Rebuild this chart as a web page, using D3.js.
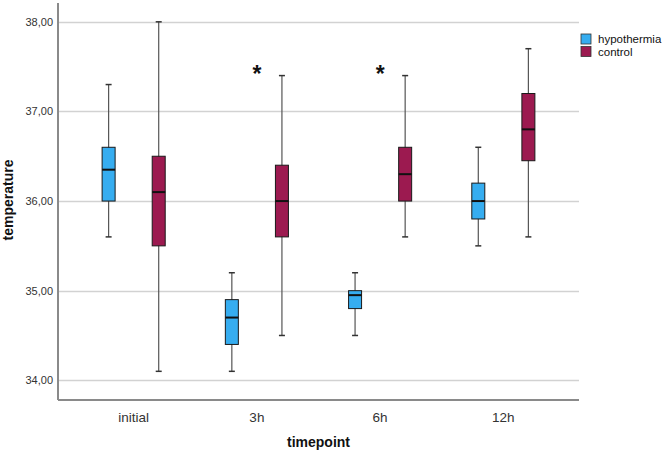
<!DOCTYPE html>
<html>
<head>
<meta charset="utf-8">
<script src="https://cdn.jsdelivr.net/npm/d3@7"></script>
<style>
  body { margin: 0; background: #fff; }
  svg { display: block; font-family: "Liberation Sans", Arial, sans-serif; }
</style>
</head>
<body>
<div id="chart"></div>
<script>
// timepoints and groups
const timepoints = ["initial", "3h", "6h", "12h"];
const groups = ["hypothermia", "control"];
const yTicks = [34, 35, 36, 37, 38];

// box stats (whisker low, Q1, median, Q3, whisker high)
const hypoMin = [35.6, 34.1, 34.5, 35.5];
const hypoQ1 = [36.0, 34.4, 34.8, 35.8];
const hypoMedian = [36.35, 34.7, 34.95, 36.0];
const hypoQ3 = [36.6, 34.9, 35.0, 36.2];
const hypoMax = [37.3, 35.2, 35.2, 36.6];

const ctrlMin = [34.1, 34.5, 35.6, 35.6];
const ctrlQ1 = [35.5, 35.6, 36.0, 36.45];
const ctrlMedian = [36.1, 36.0, 36.3, 36.8];
const ctrlQ3 = [36.5, 36.4, 36.6, 37.2];
const ctrlMax = [38.0, 37.4, 37.4, 37.7];

// timepoints marked with a star
const significant = ["3h", "6h"];
const starValue = 37.33;

const W = 667, H = 455;
const plot = { left: 58, right: 579, top: 3, bottom: 400 };

const svg = d3.select("#chart").append("svg")
    .attr("width", W)
    .attr("height", H);

const colors = d3.scaleOrdinal()
    .domain(groups)
    .range(["#36adf0", "#9c1a50"]);

const x = d3.scaleBand()
    .domain(timepoints)
    .range([plot.left, plot.right])
    .paddingInner(0)
    .paddingOuter(0.114);

const xSub = d3.scaleBand()
    .domain(groups)
    .range([0, x.bandwidth()])
    .paddingOuter(0.23);

const y = d3.scaleLinear()
    .domain([33.78, 38.21])
    .range([plot.bottom, plot.top]);

// gridlines
svg.append("g")
    .selectAll("line")
    .data(yTicks)
    .join("line")
    .attr("x1", plot.left)
    .attr("x2", plot.right)
    .attr("y1", d => Math.round(y(d)) + 0.5)
    .attr("y2", d => Math.round(y(d)) + 0.5)
    .attr("stroke", "#d2d2d2")
    .attr("stroke-width", 1.5);

// y axis
const yAxis = svg.append("g")
    .attr("transform", `translate(${plot.left},0)`)
    .call(d3.axisLeft(y).tickValues(yTicks).tickSize(0).tickPadding(5)
        .tickFormat(d => d3.format(".2f")(d).replace(".", ",")));
yAxis.select(".domain").remove();
yAxis.selectAll("text")
    .attr("font-size", 11)
    .attr("fill", "#333")
    .attr("font-family", "Liberation Sans, Arial, sans-serif");

// x axis
const xAxis = svg.append("g")
    .attr("transform", `translate(0,${plot.bottom})`)
    .call(d3.axisBottom(x).tickSize(0).tickPadding(12));
xAxis.select(".domain").remove();
xAxis.selectAll("text")
    .attr("font-size", 13.5)
    .attr("fill", "#333")
    .attr("font-family", "Liberation Sans, Arial, sans-serif");

// axis lines
svg.append("line")
    .attr("x1", plot.left).attr("x2", plot.left)
    .attr("y1", plot.top).attr("y2", plot.bottom)
    .attr("stroke", "#8a8a8a").attr("stroke-width", 2);
svg.append("line")
    .attr("x1", plot.left).attr("x2", plot.right)
    .attr("y1", plot.bottom).attr("y2", plot.bottom)
    .attr("stroke", "#8a8a8a").attr("stroke-width", 2);

// build rows for boxes
const stats = {
    hypothermia: { min: hypoMin, q1: hypoQ1, med: hypoMedian, q3: hypoQ3, max: hypoMax },
    control: { min: ctrlMin, q1: ctrlQ1, med: ctrlMedian, q3: ctrlQ3, max: ctrlMax }
};
const rows = [];
timepoints.forEach((t, i) => {
    groups.forEach(g => {
        const s = stats[g];
        rows.push({ t, g, min: s.min[i], q1: s.q1[i], med: s.med[i], q3: s.q3[i], max: s.max[i] });
    });
});

const boxW = 13, capW = 6;
const cx = d => x(d.t) + xSub(d.g) + xSub.bandwidth() / 2;

const box = svg.append("g")
    .selectAll("g")
    .data(rows)
    .join("g");

// whiskers
box.append("line")
    .attr("x1", d => cx(d)).attr("x2", d => cx(d))
    .attr("y1", d => y(d.max)).attr("y2", d => y(d.min))
    .attr("stroke", "#555").attr("stroke-width", 1.2);
box.append("line")
    .attr("x1", d => cx(d) - capW / 2).attr("x2", d => cx(d) + capW / 2)
    .attr("y1", d => y(d.max)).attr("y2", d => y(d.max))
    .attr("stroke", "#333").attr("stroke-width", 1.5);
box.append("line")
    .attr("x1", d => cx(d) - capW / 2).attr("x2", d => cx(d) + capW / 2)
    .attr("y1", d => y(d.min)).attr("y2", d => y(d.min))
    .attr("stroke", "#333").attr("stroke-width", 1.5);

// boxes
box.append("rect")
    .attr("x", d => cx(d) - boxW / 2)
    .attr("width", boxW)
    .attr("y", d => y(d.q3))
    .attr("height", d => y(d.q1) - y(d.q3))
    .attr("fill", d => colors(d.g))
    .attr("stroke", "#1a1a1a")
    .attr("stroke-width", 1);

// medians
box.append("line")
    .attr("x1", d => cx(d) - boxW / 2).attr("x2", d => cx(d) + boxW / 2)
    .attr("y1", d => y(d.med)).attr("y2", d => y(d.med))
    .attr("stroke", "#111").attr("stroke-width", 2);

// significance stars
svg.append("g")
    .selectAll("text")
    .data(significant)
    .join("text")
    .attr("x", d => x(d) + x.bandwidth() / 2)
    .attr("y", y(starValue))
    .attr("text-anchor", "middle")
    .attr("font-size", 23)
    .attr("font-weight", "bold")
    .attr("fill", "#111")
    .text("*");

// axis titles
svg.append("text")
    .attr("x", (plot.left + plot.right) / 2)
    .attr("y", 447)
    .attr("text-anchor", "middle")
    .attr("font-size", 14)
    .attr("font-weight", "bold")
    .attr("fill", "#111")
    .text("timepoint");

svg.append("text")
    .attr("transform", `translate(13,200) rotate(-90)`)
    .attr("text-anchor", "middle")
    .attr("font-size", 14)
    .attr("font-weight", "bold")
    .attr("fill", "#111")
    .text("temperature");

// legend
const legend = svg.selectAll(".legend")
    .data(groups)
    .join("g")
    .attr("class", "legend")
    .attr("transform", (d, i) => `translate(581,${34 + i * 12.5})`);

legend.append("rect")
    .attr("width", 10)
    .attr("height", 10)
    .attr("fill", colors)
    .attr("stroke", "#333")
    .attr("stroke-width", 0.8);

legend.append("text")
    .attr("x", 17)
    .attr("y", 9)
    .attr("font-size", 11.5)
    .attr("fill", "#111")
    .text(d => d);
</script>
</body>
</html>
